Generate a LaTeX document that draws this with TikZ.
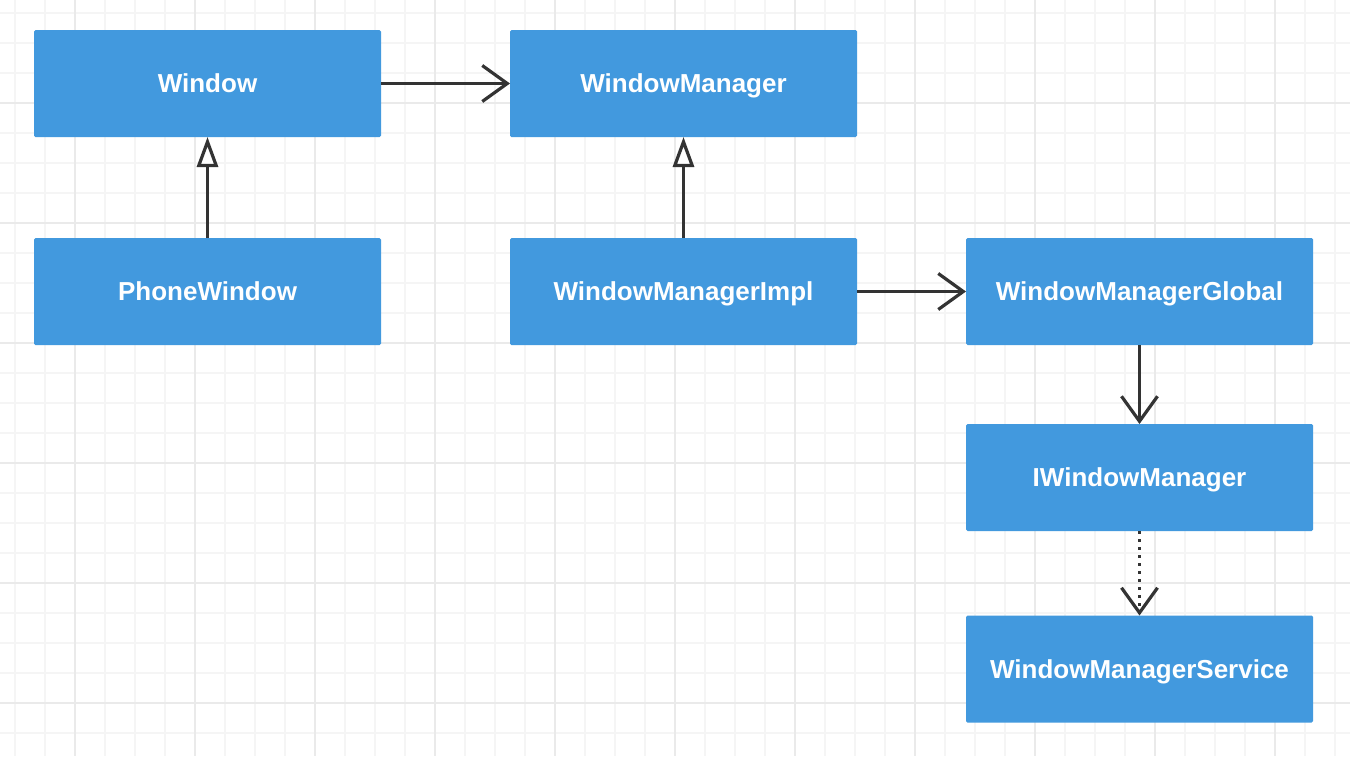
\documentclass[tikz,border=0pt]{standalone}
\usepackage{fontspec}
\setmainfont{Liberation Sans}
\usetikzlibrary{arrows.meta}
\definecolor{boxblue}{RGB}{66,153,222}
\definecolor{gridminor}{RGB}{245,245,245}
\definecolor{gridmajor}{RGB}{234,234,234}
\definecolor{linkgray}{RGB}{51,51,51}
\tikzset{
  cls/.style={rectangle, fill=boxblue, rounded corners=1.5pt,
    minimum width=347pt, minimum height=107pt, inner sep=0pt, outer sep=0pt,
    text=white, font=\fontsize{26}{30}\selectfont\bfseries,
    text height=18.7pt, text depth=0pt},
  uses/.style={draw=linkgray, line width=3.2pt, -{Straight Barb[length=25pt,width=36pt]}},
  extends/.style={draw=linkgray, line width=3.2pt, -{Triangle[open,length=30pt,width=21pt,fill=white]}},
  realizes/.style={uses, dash pattern=on 3pt off 5pt},
}

\begin{document}
\begin{tikzpicture}[x=1pt, y=-1pt]
		%%%%% GRID %%%%%
		\useasboundingbox (0, 0) rectangle (1350, 756);
		\fill[white] (0, 0) rectangle (1350, 756);
		\foreach \x in {15,45,...,1335}
			\draw[gridminor, line width=1.5pt] (\x, 0) -- (\x, 756);
		\foreach \y in {13,43,...,743}
			\draw[gridminor, line width=1.5pt] (0, \y) -- (1350, \y);
		\foreach \x in {75,195,...,1275}
			\draw[gridmajor, line width=1.5pt] (\x, 0) -- (\x, 756);
		\foreach \y in {103,223,...,703}
			\draw[gridmajor, line width=1.5pt] (0, \y) -- (1350, \y);
		
		%%%%% CLASSES %%%%%
		\node[cls] (window) at (207.5, 83.5) {Window};
		\node[cls] (wm) at (683.5, 83.5) {WindowManager};
		\node[cls] (phone) at (207.5, 291.5) {PhoneWindow};
		\node[cls] (wmimpl) at (683.5, 291.5) {WindowManagerImpl};
		\node[cls] (wmglobal) at (1139.5, 291.5) {WindowManagerGlobal};
		\node[cls] (iwm) at (1139.5, 477.5) {IWindowManager};
		\node[cls] (wms) at (1139.5, 669) {WindowManagerService};
		
		%%%%% LINKS %%%%%
		\draw[uses] (window.east) -- (wm.west);
		\draw[extends] (phone.north) -- (window.south);
		\draw[extends] (wmimpl.north) -- (wm.south);
		\draw[uses] (wmimpl.east) -- (wmglobal.west);
		\draw[uses] (wmglobal.south) -- (iwm.north);
		\draw[realizes] (iwm.south) -- (wms.north);
	\end{tikzpicture}
\end{document}
